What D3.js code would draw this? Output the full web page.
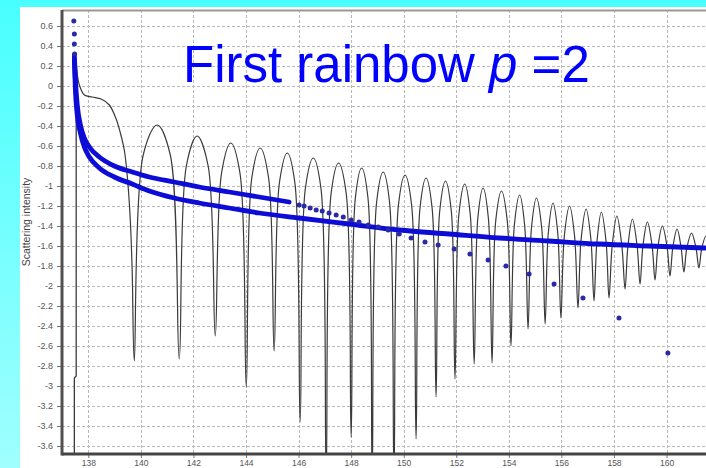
<!DOCTYPE html>
<html><head><meta charset="utf-8">
<script src="https://cdn.jsdelivr.net/npm/d3@7"></script>
<style>html,body{margin:0;padding:0;overflow:hidden;background:#fff}</style>
</head><body>
<svg id="c" width="706" height="468"></svg>
<script>
// ---------- tick labels ----------
const xTicks = [138,140,142,144,146,148,150,152,154,156,158,160];
const yTicks = [0.6,0.4,0.2,0,-0.2,-0.4,-0.6,-0.8,-1,-1.2,-1.4,-1.6,-1.8,-2,-2.2,-2.4,-2.6,-2.8,-3,-3.2,-3.4,-3.6];
const titleParts = ["First rainbow ", "p", " =2"];
const yTitle = "Scattering intensity";

// ---------- data: [angle (deg), log10 scattering intensity] ----------
const riseLine = [[137.47,-3.90],[137.47,-2.92],[137.54,-2.90],[137.54,0.22]];
const oscillation = [
[137.54,0.22],[137.58,0.12],[137.66,0.01],[137.85,-0.09],[138.15,-0.11],[138.49,-0.13],[138.80,-0.19],[139.06,-0.33],[139.22,-0.47],[139.37,-0.64],[139.48,-0.89],[139.60,-1.35],[139.67,-1.85],
[139.75,-2.75],[140.09,-0.69],[140.62,-0.39],[141.12,-0.69],
[141.46,-2.73],[141.73,-0.80],[142.14,-0.50],[142.56,-0.80],
[142.83,-2.50],[143.07,-0.87],[143.42,-0.57],[143.77,-0.87],
[144.01,-3.01],[144.22,-0.92],[144.54,-0.62],[144.86,-0.92],
[145.07,-2.65],[145.27,-0.97],[145.57,-0.67],[145.86,-0.97],
[146.06,-3.36],[146.26,-1.02],[146.56,-0.72],[146.85,-1.02],
[147.05,-3.90],[147.24,-1.07],[147.52,-0.77],[147.81,-1.07],
[148.00,-3.51],[148.16,-1.12],[148.40,-0.82],[148.64,-1.12],
[148.80,-3.90],[148.97,-1.16],[149.22,-0.86],[149.46,-1.16],
[149.63,-3.90],[149.80,-1.19],[150.05,-0.89],[150.30,-1.19],
[150.47,-3.53],[150.62,-1.22],[150.85,-0.92],[151.08,-1.22],
[151.23,-3.11],[151.37,-1.25],[151.59,-0.95],[151.81,-1.25],
[151.95,-2.93],[152.10,-1.28],[152.32,-0.98],[152.53,-1.28],
[152.68,-2.78],[152.82,-1.32],[153.02,-1.02],[153.22,-1.32],
[153.36,-2.77],[153.50,-1.35],[153.72,-1.05],[153.94,-1.35],
[154.08,-2.60],[154.21,-1.39],[154.41,-1.09],[154.60,-1.39],
[154.73,-2.43],[154.86,-1.42],[155.05,-1.12],[155.25,-1.42],
[155.38,-2.38],[155.50,-1.47],[155.68,-1.17],[155.86,-1.47],
[155.98,-2.32],[156.11,-1.50],[156.31,-1.20],[156.50,-1.50],
[156.63,-2.22],[156.75,-1.53],[156.94,-1.23],[157.12,-1.53],
[157.24,-2.15],[157.35,-1.56],[157.52,-1.26],[157.70,-1.56],
[157.81,-2.12],[157.93,-1.60],[158.11,-1.30],[158.30,-1.60],
[158.42,-2.03],[158.53,-1.60],[158.70,-1.33],[158.88,-1.60],
[158.99,-1.98],[159.10,-1.60],[159.27,-1.36],[159.45,-1.60],
[159.56,-1.94],[159.67,-1.61],[159.84,-1.40],[160.02,-1.61],
[160.13,-1.90],[160.24,-1.61],[160.40,-1.43],[160.55,-1.61],
[160.66,-1.86],[160.77,-1.62],[160.95,-1.47],[161.12,-1.62],
[161.23,-1.82],[161.34,-1.62],[161.50,-1.50],[161.65,-1.62],
[161.76,-1.78]
];
const bandUpper = [[137.47,0.31],[137.51,0.06],[137.58,-0.19],[137.70,-0.39],[137.85,-0.52],[138.04,-0.61],[138.42,-0.71],[138.99,-0.80],[139.67,-0.86],[140.32,-0.91],[141.27,-0.96],[142.22,-1.01],[143.36,-1.06],[144.50,-1.11],[145.64,-1.16]];
const bandLower = [[137.47,0.26],[137.51,-0.04],[137.58,-0.29],[137.70,-0.47],[137.85,-0.61],[138.04,-0.71],[138.42,-0.82],[138.99,-0.91],[139.67,-0.98],[140.32,-1.05],[141.27,-1.12],[142.22,-1.17],[143.36,-1.22],[144.50,-1.27],[146.02,-1.32],[147.92,-1.38],[149.83,-1.44],[151.73,-1.48],[153.63,-1.52],[155.53,-1.55],[157.43,-1.58],[159.33,-1.60],[161.46,-1.62]];
const upperDots = [[137.45,0.65],[137.47,0.52],[137.47,0.42],[137.48,0.32],
[146.02,-1.19],[146.21,-1.20],[146.44,-1.22],[146.67,-1.24],[146.90,-1.25],[147.16,-1.27],[147.43,-1.29],[147.70,-1.31],[148.00,-1.34],[148.30,-1.36],[148.65,-1.39],[149.03,-1.41],[149.41,-1.44],[149.83,-1.48],[150.28,-1.52],[150.81,-1.56],[151.31,-1.59],[151.92,-1.63],[152.52,-1.68],[153.21,-1.74],[153.89,-1.80],[154.77,-1.88],[155.72,-1.98],[156.82,-2.12],[158.19,-2.32],[160.05,-2.67]];

// ---------- drawing ----------
const W = 706, H = 468;
const svg = d3.select('#c');
const defs = svg.append('defs');
const grad = defs.append('linearGradient').attr('id','bg').attr('x1',0).attr('y1',0).attr('x2',0).attr('y2',1);
grad.append('stop').attr('offset','0%').attr('stop-color','#48ffff');
grad.append('stop').attr('offset','100%').attr('stop-color','#a0ffff');
svg.append('rect').attr('width',W).attr('height',H).attr('fill','url(#bg)');
svg.append('rect').attr('x',20).attr('y',7).attr('width',W-20).attr('height',H-7).attr('fill','#fff');

const P = {l:62, t:10, r:706, b:454};
const x = d3.scaleLinear().domain([137.0,161.5]).range([P.l,P.r]);
const y = d3.scaleLinear().domain([-3.68,0.76]).range([P.b,P.t]);

defs.append('clipPath').attr('id','clip').append('rect')
  .attr('x',P.l).attr('y',P.t).attr('width',P.r-P.l).attr('height',P.b-P.t);

// grid
const grid = svg.append('g').attr('stroke','#b8b8b8').attr('stroke-width',1).attr('stroke-dasharray','3,2');
grid.selectAll('line.h').data(yTicks).join('line').attr('class','h')
  .attr('x1',P.l).attr('x2',P.r).attr('y1',d=>Math.round(y(d))+0.5).attr('y2',d=>Math.round(y(d))+0.5);
grid.selectAll('line.v').data(xTicks).join('line').attr('class','v')
  .attr('y1',P.t).attr('y2',P.b).attr('x1',d=>Math.round(x(d))+0.5).attr('x2',d=>Math.round(x(d))+0.5);

const data = svg.append('g').attr('clip-path','url(#clip)');
const lineLin = d3.line().x(d=>x(d[0])).y(d=>y(d[1]));
const lineCR = d3.line().x(d=>x(d[0])).y(d=>y(d[1])).curve(d3.curveCatmullRom.alpha(0.5));
const lineMono = d3.line().x(d=>x(d[0])).y(d=>y(d[1])).curve(d3.curveMonotoneX);

data.append('path').attr('d',lineLin(riseLine)).attr('fill','none').attr('stroke','#3a3a3a').attr('stroke-width',1.3);
data.append('path').attr('d',lineCR(oscillation)).attr('fill','none').attr('stroke','#3a3a3a').attr('stroke-width',1.2);

data.append('path').attr('d',lineMono(bandLower)).attr('fill','none').attr('stroke','#0c0cd6').attr('stroke-width',4.8).attr('stroke-linecap','round');
data.append('path').attr('d',lineMono(bandUpper)).attr('fill','none').attr('stroke','#0c0cd6').attr('stroke-width',4.8).attr('stroke-linecap','round');
data.selectAll('circle').data(upperDots).join('circle')
  .attr('cx',d=>x(d[0])).attr('cy',d=>y(d[1])).attr('r',2.5).attr('fill','#2a2aa8');

// axes
const yAxis = d3.axisLeft(y).tickValues(yTicks).tickSize(4).tickPadding(4).tickFormat(d=>String(+d.toFixed(1)));
const gy = svg.append('g').attr('transform',`translate(${P.l-1},0)`).call(yAxis);
gy.select('.domain').remove();
gy.selectAll('line').attr('stroke','#777');
gy.selectAll('text').attr('font-family','Liberation Sans, Arial, sans-serif').attr('font-size',9).attr('fill','#555');

const xAxis = d3.axisBottom(x).tickValues(xTicks).tickSize(4).tickPadding(2).tickFormat(d3.format('d'));
const gx = svg.append('g').attr('transform',`translate(0,${P.b})`).call(xAxis);
gx.select('.domain').remove();
gx.selectAll('line').attr('stroke','#777');
gx.selectAll('text').attr('font-family','Liberation Sans, Arial, sans-serif').attr('font-size',8.5).attr('fill','#555');

// frame
svg.append('line').attr('x1',P.l).attr('x2',P.r).attr('y1',P.t+0.5).attr('y2',P.t+0.5).attr('stroke','#999').attr('stroke-width',2);
svg.append('line').attr('x1',P.l).attr('x2',P.l).attr('y1',P.t).attr('y2',P.b+1.5).attr('stroke','#505050').attr('stroke-width',3);
svg.append('line').attr('x1',P.l).attr('x2',P.r).attr('y1',P.b).attr('y2',P.b).attr('stroke','#454545').attr('stroke-width',3);

// y title
svg.append('text').attr('transform','translate(30,222) rotate(-90)').attr('text-anchor','middle')
  .attr('font-family','Liberation Sans, Arial, sans-serif').attr('font-size',10.5).attr('fill','#444').text(yTitle);

// title
const t = svg.append('text').attr('x',183).attr('y',82).attr('font-family','Liberation Sans, Arial, sans-serif')
  .attr('font-size',51).attr('fill','#0000ff');
t.append('tspan').text(titleParts[0]);
t.append('tspan').attr('font-style','italic').text(titleParts[1]);
t.append('tspan').text(titleParts[2]);
</script>
</body></html>
